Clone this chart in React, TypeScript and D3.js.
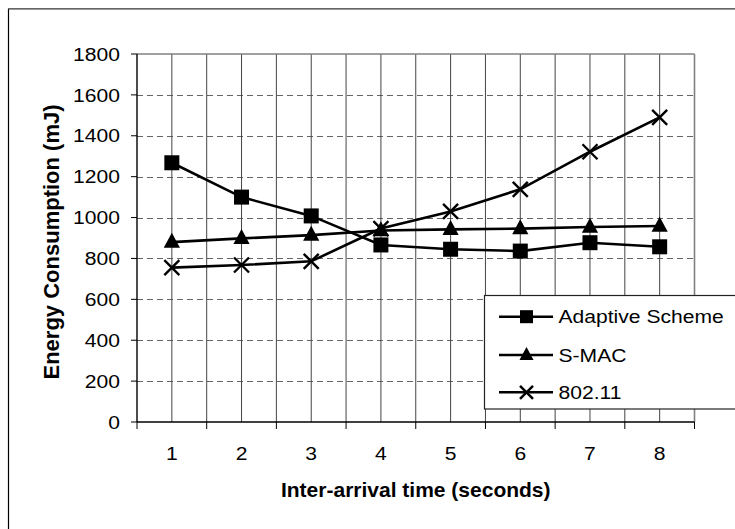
import React from "react";
import * as d3 from "d3";

const categories = ["1", "2", "3", "4", "5", "6", "7", "8"];
const adaptiveValues = [1268, 1100, 1008, 866, 845, 836, 877, 857];
const smacValues = [880, 898, 914, 937, 942, 946, 954, 959];
const ieeeValues = [755, 768, 786, 946, 1030, 1138, 1322, 1490];
const yTicks = [0, 200, 400, 600, 800, 1000, 1200, 1400, 1600, 1800];
const seriesNames = ["Adaptive Scheme", "S-MAC", "802.11"];
const markerKinds = ["square", "triangle", "cross"];

const W = 735;
const H = 529;
const left = 137;
const right = 694.5;
const top = 54;
const bottom = 422;
const FONT = "'Liberation Sans', Arial, Helvetica, sans-serif";
const SX = 1.14;

function Marker({ kind, x, y, s }: { kind: string; x: number; y: number; s: number }) {
  const h = s / 2;
  if (kind === "square") {
    return <rect x={x - h} y={y - h} width={s} height={s} fill="#000" />;
  }
  if (kind === "triangle") {
    const th = s * 1.0;
    const hw = h * 1.08;
    return (
      <path
        d={`M${x},${y - th * 0.62} L${x + hw},${y + th * 0.38} L${x - hw},${y + th * 0.38} Z`}
        fill="#000"
      />
    );
  }
  return (
    <g stroke="#000" strokeWidth={2.4}>
      <line x1={x - h} y1={y - h} x2={x + h} y2={y + h} />
      <line x1={x - h} y1={y + h} x2={x + h} y2={y - h} />
    </g>
  );
}

export default function App() {
  const x = d3.scaleBand<string>().domain(categories).range([left, right]).padding(0);
  const y = d3.scaleLinear().domain([0, 1800]).range([bottom, top]);
  const cx = (c: string) => (x(c) as number) + x.bandwidth() / 2;
  const series = [adaptiveValues, smacValues, ieeeValues];
  const line = d3
    .line<number>()
    .x((_, i) => cx(categories[i]))
    .y((d) => y(d));

  const boundaries = categories.map((c) => x(c) as number).concat([right]);

  const legendRows = [316.7, 355, 392.3];

  return (
    <svg
      width={W}
      height={H}
      style={{ position: "absolute", left: 0, top: 0, background: "#fff" }}
      fontFamily={FONT}
    >
      <rect x={0} y={0} width={W} height={H} fill="#fff" />
      {/* outer frame */}
      <line x1={8.5} y1={9} x2={8.5} y2={H + 5} stroke="#000" strokeWidth={1.2} />
      <line x1={8} y1={8.8} x2={W + 5} y2={8.8} stroke="#333" strokeWidth={1.2} />

      {/* horizontal gridlines */}
      {yTicks
        .filter((t) => t > 0 && t < 1800)
        .map((t) => (
          <line
            key={"hg" + t}
            x1={left}
            x2={right}
            y1={Math.round(y(t)) + 0.5}
            y2={Math.round(y(t)) + 0.5}
            stroke="#666"
            strokeWidth={1.1}
            strokeDasharray="6,4"
          />
        ))}
      {/* vertical gridlines at centers and boundaries */}
      {boundaries.slice(1, -1).map((b, i) => (
        <line key={"vb" + i} x1={b} x2={b} y1={top} y2={bottom} stroke="#444" strokeWidth={1} />
      ))}
      {categories.map((c) => (
        <line key={"vc" + c} x1={cx(c)} x2={cx(c)} y1={top} y2={bottom} stroke="#444" strokeWidth={1} />
      ))}
      {/* plot border top/right */}
      <line x1={left} x2={right} y1={top} y2={top} stroke="#808080" strokeWidth={1.6} />
      <line x1={right} x2={right} y1={top} y2={bottom} stroke="#808080" strokeWidth={1.6} />

      {/* axes */}
      <line x1={left} x2={left} y1={top} y2={bottom} stroke="#000" strokeWidth={1.4} />
      <line x1={left} x2={right} y1={bottom} y2={bottom} stroke="#000" strokeWidth={1.4} />
      {yTicks.map((t) => (
        <g key={"yt" + t}>
          <line x1={left - 6} x2={left} y1={y(t)} y2={y(t)} stroke="#000" strokeWidth={1} />
          <text
            transform={`translate(120,${y(t) + 6.7}) scale(${SX},1)`}
            textAnchor="end"
            fontSize={18.5}
            fill="#000"
          >
            {t}
          </text>
        </g>
      ))}
      {boundaries.map((b, i) => (
        <line key={"xt" + i} x1={b} x2={b} y1={bottom} y2={bottom + 7} stroke="#000" strokeWidth={1} />
      ))}
      {categories.map((c) => (
        <text
          key={"xl" + c}
          transform={`translate(${cx(c)},${bottom + 38}) scale(${SX},1)`}
          textAnchor="middle"
          fontSize={18.5}
          fill="#000"
        >
          {c}
        </text>
      ))}

      {/* axis titles */}
      <text
        x={(left + right) / 2}
        y={496.5}
        textAnchor="middle"
        fontSize={21}
        fontWeight="bold"
        fill="#000"
      >
        Inter-arrival time (seconds)
      </text>
      <text
        transform={`translate(58.5,${(top + bottom) / 2 + 4}) rotate(-90)`}
        textAnchor="middle"
        fontSize={22}
        fontWeight="bold"
        fill="#000"
      >
        Energy Consumption (mJ)
      </text>

      {/* series */}
      {series.map((vals, si) => (
        <g key={"s" + si}>
          <path d={line(vals) as string} fill="none" stroke="#000" strokeWidth={2.6} />
          {vals.map((v, i) => (
            <Marker key={i} kind={markerKinds[si]} x={cx(categories[i])} y={y(v)} s={15} />
          ))}
        </g>
      ))}

      {/* legend */}
      <rect x={484.5} y={295.5} width={W} height={113.5} fill="#fff" stroke="#222" strokeWidth={1.2} />
      {seriesNames.map((n, i) => (
        <g key={"lg" + i}>
          <line x1={499} x2={553} y1={legendRows[i]} y2={legendRows[i]} stroke="#000" strokeWidth={2.6} />
          <Marker kind={markerKinds[i]} x={526.5} y={legendRows[i]} s={13} />
          <text
            transform={`translate(558.5,${legendRows[i] + 6.7}) scale(${SX},1)`}
            fontSize={18.5}
            fill="#000"
          >
            {n}
          </text>
        </g>
      ))}
    </svg>
  );
}
